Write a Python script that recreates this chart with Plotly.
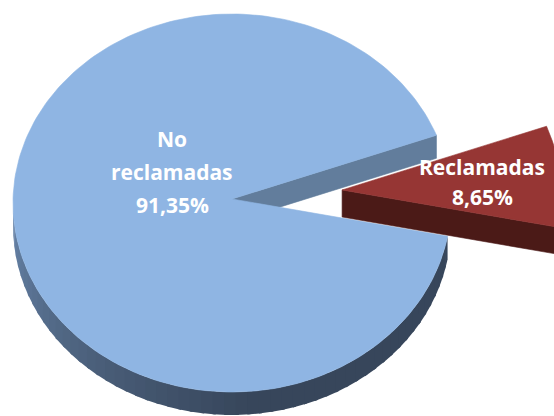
import math
import plotly.graph_objects as go

# ---- data ----
categories = ["No reclamadas", "Reclamadas"]
values = [91.35, 8.65]
label_lines = [["No", "reclamadas", "91,35%"], ["Reclamadas", "8,65%"]]

# ---- style / geometry constants ----
W, H = 554, 416
CX, CY = 232, 203          # pie centre (px)
RX, RY = 219, 189          # ellipse radii of top face
APEX_LIFT = 4              # perspective: apex sits slightly above ellipse centre
DEPTH = [23, 27]           # visible thickness per slice
ROTATION = 21.0            # start angle (deg, counter-clockwise from 3 o'clock)
EXPLODE = [0.0, 0.505]
TOP_COL = ["#8FB5E3", "#963634"]
CUT_COL = ["#627D9C", "#4B1A17"]
WALL_DARK_RED = "#4B1A17"

total = sum(values)
spans = [v / total * 360.0 for v in values]
starts = []
a = ROTATION
for s in spans:
    starts.append(a)
    a += s


def pt(theta, r, off, z=0.0):
    t = math.radians(theta)
    return (CX + off[0] + r * RX * math.cos(t),
            CY + off[1] - r * RY * math.sin(t) + z)


def lerp(c1, c2, t):
    return "rgb(%d,%d,%d)" % tuple(round(c1[i] + (c2[i] - c1[i]) * t) for i in range(3))


def wall_color(theta, idx):
    if idx == 1:
        return WALL_DARK_RED
    th = theta % 360
    t = min(max((th - 180) / 95.0, 0), 1) ** 0.75
    return lerp((108, 138, 176), (55, 70, 91), t)


fig = go.Figure()


def poly(xs, ys, color, lw=0.6):
    fig.add_trace(go.Scatter(x=xs + [xs[0]], y=ys + [ys[0]], mode="lines",
                             fill="toself", fillcolor=color,
                             line=dict(color=color, width=lw),
                             hoverinfo="skip", showlegend=False))


offsets = []
for i in range(len(values)):
    mid = starts[i] + spans[i] / 2
    m = math.radians(mid)
    offsets.append((EXPLODE[i] * RX * math.cos(m), -EXPLODE[i] * RY * math.sin(m)))

for i in range(len(values)):
    a0, a1 = starts[i], starts[i] + spans[i]
    off = offsets[i]
    d = DEPTH[i]
    # outer wall (front half only)
    for base in (180.0, 540.0):
        lo, hi = max(a0, base), min(a1, base + 180.0)
        if hi > lo:
            n = max(2, int((hi - lo) / 3))
            for k in range(n):
                t0 = lo + (hi - lo) * k / n
                t1 = min(hi, lo + (hi - lo) * (k + 1) / n + 0.8)
                p = [pt(t0, 1, off), pt(t1, 1, off), pt(t1, 1, off, d), pt(t0, 1, off, d)]
                poly([q[0] for q in p], [q[1] for q in p], wall_color((t0 + t1) / 2, i), lw=0)
    # visible cut face (start edge of each slice faces the viewer here)
    c0 = pt(0, 0, off)
    c = (c0[0], c0[1] - APEX_LIFT)
    r = pt(a0, 1, off)
    p = [c, r, (r[0], r[1] + d), (c[0], c[1] + d)]
    poly([q[0] for q in p], [q[1] for q in p], CUT_COL[i])
    # top face
    n = max(8, int(spans[i] / 1.5))
    arc = [pt(a0 + spans[i] * k / n, 1, off) for k in range(n + 1)]
    xs = [c[0]] + [q[0] for q in arc]
    ys = [c[1]] + [q[1] for q in arc]
    poly(xs, ys, TOP_COL[i])

# labels
label_pos = [(172, 139, 33), (482, 167, 30)]
for i, lines in enumerate(label_lines):
    x0, y0, dy = label_pos[i]
    for j, txt in enumerate(lines):
        fig.add_annotation(x=x0, y=y0 + j * dy, text="<b>%s</b>" % txt, showarrow=False,
                           xref="x", yref="y", xanchor="center", yanchor="middle",
                           font=dict(family="Open Sans", size=21, color="white"))

fig.update_layout(
    width=W, height=H, margin=dict(l=0, r=0, t=0, b=0),
    paper_bgcolor="white", plot_bgcolor="white",
    xaxis=dict(range=[0, W], visible=False, fixedrange=True),
    yaxis=dict(range=[H, 0], visible=False, fixedrange=True),
)
fig.write_html("out.html", config={"displayModeBar": False},
               post_script="document.body.style.margin='0';document.body.style.overflow='hidden';")
